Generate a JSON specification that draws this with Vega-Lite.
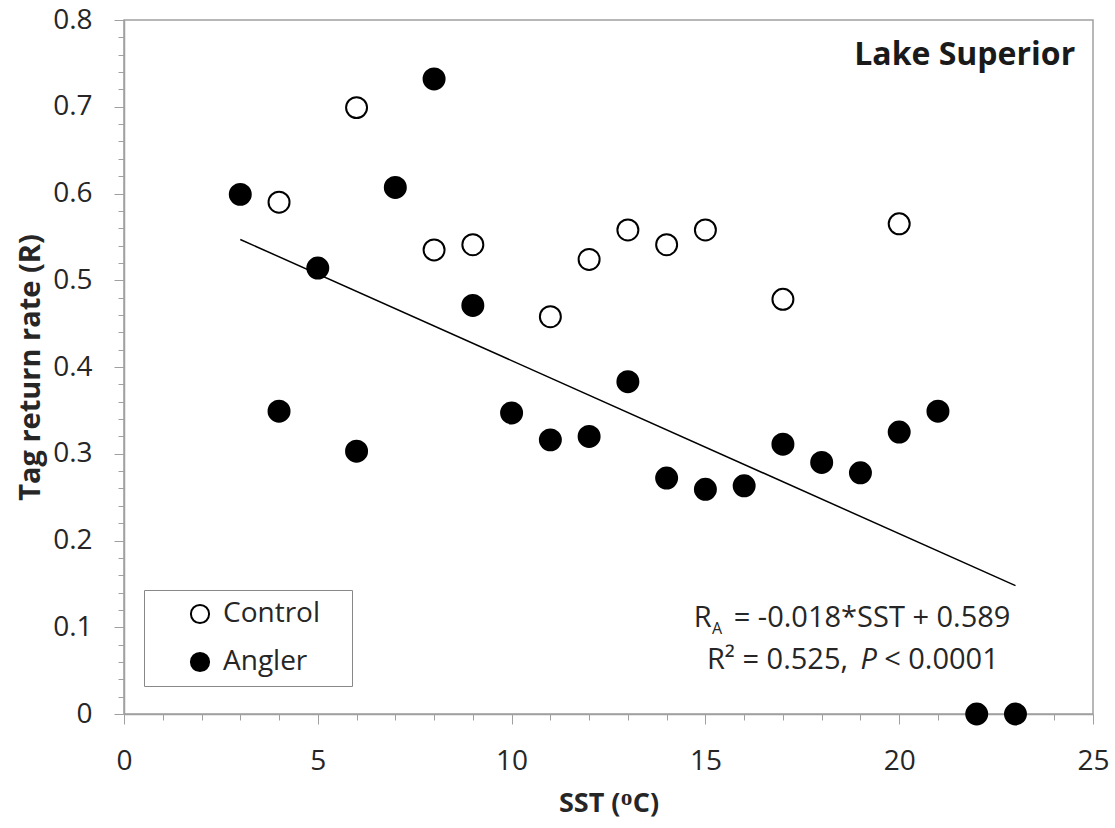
{
  "$schema": "https://vega.github.io/schema/vega-lite/v6.json",
  "width": 969,
  "height": 694,
  "autosize": {"type": "none"},
  "padding": {"left": 124, "top": 20, "right": 22, "bottom": 114},
  "background": "white",
  "config": {
    "font": "Open Sans",
    "view": {"stroke": "#a0a0a0", "strokeWidth": 1.5},
    "axis": {
      "grid": false,
      "domainColor": "#a0a0a0",
      "domainWidth": 1.5,
      "tickColor": "#a0a0a0",
      "tickWidth": 1,
      "labelFont": "Open Sans",
      "labelFontSize": 28,
      "labelColor": "#262626",
      "labelOverlap": false,
      "labelFlush": false,
      "titleFont": "Open Sans",
      "titleFontSize": 27,
      "titleFontWeight": "bold",
      "titleColor": "#262626"
    }
  },
  "datasets": {
    "obs": [
      {"SST": 4, "R": 0.59, "group": "Control"},
      {"SST": 6, "R": 0.699, "group": "Control"},
      {"SST": 8, "R": 0.535, "group": "Control"},
      {"SST": 9, "R": 0.541, "group": "Control"},
      {"SST": 11, "R": 0.458, "group": "Control"},
      {"SST": 12, "R": 0.524, "group": "Control"},
      {"SST": 13, "R": 0.558, "group": "Control"},
      {"SST": 14, "R": 0.541, "group": "Control"},
      {"SST": 15, "R": 0.558, "group": "Control"},
      {"SST": 17, "R": 0.478, "group": "Control"},
      {"SST": 20, "R": 0.565, "group": "Control"},
      {"SST": 3, "R": 0.599, "group": "Angler"},
      {"SST": 4, "R": 0.349, "group": "Angler"},
      {"SST": 5, "R": 0.514, "group": "Angler"},
      {"SST": 6, "R": 0.303, "group": "Angler"},
      {"SST": 7, "R": 0.607, "group": "Angler"},
      {"SST": 8, "R": 0.732, "group": "Angler"},
      {"SST": 9, "R": 0.471, "group": "Angler"},
      {"SST": 10, "R": 0.347, "group": "Angler"},
      {"SST": 11, "R": 0.316, "group": "Angler"},
      {"SST": 12, "R": 0.32, "group": "Angler"},
      {"SST": 13, "R": 0.383, "group": "Angler"},
      {"SST": 14, "R": 0.272, "group": "Angler"},
      {"SST": 15, "R": 0.259, "group": "Angler"},
      {"SST": 16, "R": 0.263, "group": "Angler"},
      {"SST": 17, "R": 0.311, "group": "Angler"},
      {"SST": 18, "R": 0.29, "group": "Angler"},
      {"SST": 19, "R": 0.278, "group": "Angler"},
      {"SST": 20, "R": 0.325, "group": "Angler"},
      {"SST": 21, "R": 0.349, "group": "Angler"},
      {"SST": 22, "R": 0, "group": "Angler"},
      {"SST": 23, "R": 0, "group": "Angler"}
    ],
    "fit": [
      {"SST": 3, "R": 0.547},
      {"SST": 23, "R": 0.148}
    ]
  },
  "layer": [
    {
      "data": {"name": "fit"},
      "mark": {"type": "line", "color": "black", "strokeWidth": 1.5},
      "encoding": {
        "x": {
          "field": "SST",
          "type": "quantitative",
          "scale": {"domain": [0, 25], "nice": false, "zero": false},
          "axis": {
            "values": [0,1,2,3,4,5,6,7,8,9,10,11,12,13,14,15,16,17,18,19,20,21,22,23,24,25],
            "tickCount": 100,
            "labelExpr": "datum.value % 5 == 0 ? format(datum.value, 'd') : ''",
            "labelOverlap": false,
            "labelFlush": false,
            "tickSize": {"condition": {"test": "datum.value % 5 == 0", "value": 10}, "value": 6},
            "labelPadding": 23,
            "title": "SST (ᴼC)",
            "titlePadding": 15
          }
        },
        "y": {
          "field": "R",
          "type": "quantitative",
          "scale": {"domain": [0, 0.8], "nice": false},
          "axis": {
            "values": [0,0.02,0.04,0.06,0.08,0.1,0.12,0.14,0.16,0.18,0.2,0.22,0.24,0.26,0.28,0.3,0.32,0.34,0.36,0.38,0.4,0.42,0.44,0.46,0.48,0.5,0.52,0.54,0.56,0.58,0.6,0.62,0.64,0.66,0.68,0.7,0.72,0.74,0.76,0.78,0.8],
            "tickCount": 100,
            "labelExpr": "abs(datum.value*10 - round(datum.value*10)) < 0.001 ? (datum.value == 0 ? '0' : format(datum.value, '.1f')) : ''",
            "labelOverlap": false,
            "labelFlush": false,
            "tickSize": {"condition": {"test": "abs(datum.value*10 - round(datum.value*10)) < 0.001", "value": 10}, "value": 6},
            "labelPadding": 22,
            "title": "Tag return rate (R)",
            "titleFontSize": 29,
            "titlePadding": 7
          }
        }
      }
    },
    {
      "data": {"name": "obs"},
      "mark": {"type": "circle", "stroke": "black", "strokeWidth": 2, "size": 440, "opacity": 1},
      "encoding": {
        "x": {"field": "SST", "type": "quantitative"},
        "y": {"field": "R", "type": "quantitative"},
        "fill": {
          "field": "group",
          "type": "nominal",
          "scale": {"domain": ["Control", "Angler"], "range": ["white", "black"]},
          "legend": {
            "title": "\u00a0",
            "titleOrient": "right",
            "titleFontSize": 28,
            "titlePadding": 22,
            "orient": "none",
            "legendX": 20,
            "legendY": 570,
            "labelFont": "Open Sans",
            "labelFontSize": 28,
            "labelColor": "#262626",
            "labelOffset": 9,
            "symbolType": "circle",
            "symbolSize": 330,
            "symbolStrokeColor": "black",
            "symbolStrokeWidth": 2,
            "symbolOffset": 32,
            "padding": 10,
            "rowPadding": 20,
            "strokeColor": "#888888",
            "fillColor": "white"
          }
        }
      }
    },
    {
      "data": {"values": [{}]},
      "mark": {"type": "text", "align": "right", "baseline": "middle", "font": "Open Sans", "fontSize": 32, "fontWeight": "bold", "color": "#1a1a1a"},
      "encoding": {
        "x": {"datum": 24.54},
        "y": {"datum": 0.76},
        "text": {"value": "Lake Superior"}
      }
    },
    {
      "data": {"values": [{}]},
      "mark": {"type": "text", "align": "left", "baseline": "middle", "font": "Open Sans", "fontSize": 29, "color": "#262626"},
      "encoding": {
        "x": {"datum": 14.7},
        "y": {"datum": 0.1107},
        "text": {"value": "R"}
      }
    },
    {
      "data": {"values": [{}]},
      "mark": {"type": "text", "align": "center", "baseline": "middle", "font": "Open Sans", "fontSize": 16, "color": "#262626"},
      "encoding": {
        "x": {"datum": 15.3},
        "y": {"datum": 0.098},
        "text": {"value": "A"}
      }
    },
    {
      "data": {"values": [{}]},
      "mark": {"type": "text", "align": "center", "baseline": "middle", "font": "Open Sans", "fontSize": 29, "color": "#262626"},
      "encoding": {
        "x": {"datum": 19.3},
        "y": {"datum": 0.1107},
        "text": {"value": "= -0.018*SST + 0.589"}
      }
    },
    {
      "data": {"values": [{}]},
      "mark": {"type": "text", "align": "center", "baseline": "middle", "font": "Open Sans", "fontSize": 29, "color": "#262626"},
      "encoding": {
        "x": {"datum": 16.86},
        "y": {"datum": 0.0622},
        "text": {"value": "R² = 0.525,"}
      }
    },
    {
      "data": {"values": [{}]},
      "mark": {"type": "text", "align": "center", "baseline": "middle", "font": "Open Sans", "fontSize": 29, "fontStyle": "italic", "color": "#262626"},
      "encoding": {
        "x": {"datum": 19.21},
        "y": {"datum": 0.0622},
        "text": {"value": "P"}
      }
    },
    {
      "data": {"values": [{}]},
      "mark": {"type": "text", "align": "center", "baseline": "middle", "font": "Open Sans", "fontSize": 29, "color": "#262626"},
      "encoding": {
        "x": {"datum": 21.09},
        "y": {"datum": 0.0622},
        "text": {"value": "< 0.0001"}
      }
    }
  ]
}
